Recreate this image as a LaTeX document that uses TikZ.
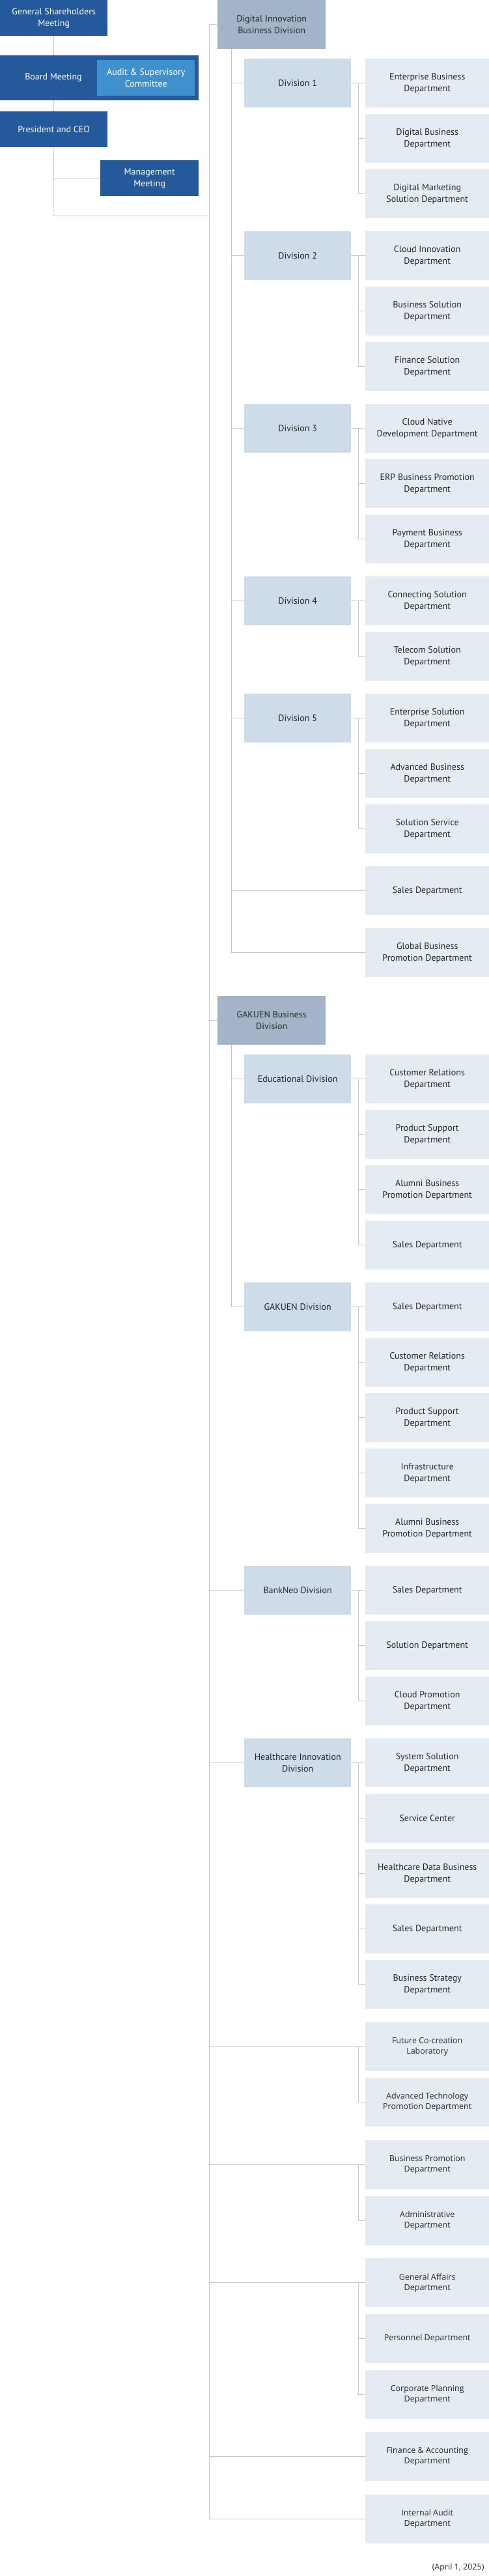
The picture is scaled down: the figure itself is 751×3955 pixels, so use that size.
\documentclass[tikz,border=0pt]{standalone}
\usepackage{fontspec}
\setmainfont{PT Sans}
\newfontfamily\lowfont{Open Sans}
\definecolor{dkblue}{HTML}{245A9B}
\definecolor{audit}{HTML}{4190CE}
\definecolor{grpc}{HTML}{A3B4C8}
\definecolor{divc}{HTML}{CEDBE9}
\definecolor{depc}{HTML}{E5EBF3}
\definecolor{linec}{HTML}{C8C8C8}
\tikzset{
  boxbase/.style={anchor=north west, inner sep=0pt, align=center, font=\fontsize{14}{18}\selectfont},
  topbox/.style={boxbase, fill=dkblue, text=white, minimum height=55pt},
  grpbox/.style={boxbase, fill=grpc, text=black!85, minimum width=166pt, minimum height=75pt},
  divbox/.style={boxbase, fill=divc, text=black!85, minimum width=164pt, minimum height=75pt},
  depbox/.style={boxbase, fill=depc, text=black!85, minimum width=190pt, minimum height=75pt},
  lowbox/.style={depbox, font=\lowfont\fontsize{12.5}{16}\selectfont},
  conn/.style={draw=linec, line width=0.8pt},
}
\newcommand{\dep}[3]{\node[depbox] (#1) at (561,#2) {#3};}
\newcommand{\ldep}[3]{\node[lowbox] (#1) at (561,#2) {#3};}
\newcommand{\dv}[3]{\node[divbox] (#1) at (375,#2) {#3};}
\begin{document}
\begin{tikzpicture}[x=1pt,y=-1pt]
\path[fill=white] (0,0) rectangle (751,3955);
\useasboundingbox (0,0) rectangle (751,3955);
% top management
\node[topbox, minimum width=165pt] (gsm) at (0,0) {General Shareholders\\Meeting};
\node[boxbase, fill=dkblue, minimum width=305pt, minimum height=69pt] (board) at (0,85) {};
\node[text=white, font=\fontsize{14}{18}\selectfont] (boardlbl) at (82,119.5) {Board Meeting};
\node[topbox, fill=audit, minimum width=150pt] (aud) at (149,92) {Audit \& Supervisory\\Committee};
\node[topbox, minimum width=165pt] (pres) at (0,171) {President and CEO};
\node[topbox, minimum width=151pt] (mgmt) at (154,246) {Management\\Meeting};
\coordinate (pb) at (82,331);
\draw[conn] (gsm.south) -- (gsm.south |- board.north);
\draw[conn] (gsm.south |- board.south) -- (pres.north);
\draw[conn] (pres.south) -- (pb);
\draw[conn] (mgmt.west -| pb) -- (mgmt.west);
% trunk
\node[grpbox] (di) at (334,0) {Digital Innovation\\Business Division};
\coordinate (t0) at (321,37.5);
\coordinate (pbt) at (321,331);
\draw[conn] (pb) -- (pbt);
\draw[conn] (di.west) -- (t0);
% DI group
\coordinate (s1) at (355,75);
\dv{d1}{90}{Division 1}
\dep{e11}{90}{Enterprise Business\\Department}
\dep{e12}{175}{Digital Business\\Department}
\dep{e13}{260}{Digital Marketing\\Solution Department}
\dv{d2}{355}{Division 2}
\dep{e21}{355}{Cloud Innovation\\Department}
\dep{e22}{440}{Business Solution\\Department}
\dep{e23}{525}{Finance Solution\\Department}
\dv{d3}{620}{Division 3}
\dep{e31}{620}{Cloud Native\\Development Department}
\dep{e32}{705}{ERP Business Promotion\\Department}
\dep{e33}{790}{Payment Business\\Department}
\dv{d4}{885}{Division 4}
\dep{e41}{885}{Connecting Solution\\Department}
\dep{e42}{970}{Telecom Solution\\Department}
\dv{d5}{1065}{Division 5}
\dep{e51}{1065}{Enterprise Solution\\Department}
\dep{e52}{1150}{Advanced Business\\Department}
\dep{e53}{1235}{Solution Service\\Department}
\dep{disales}{1330}{Sales Department}
\dep{diglobal}{1425}{Global Business\\Promotion Department}
\draw[conn] (s1) |- (diglobal.west);
\draw[conn] (disales.west -| s1) -- (disales.west);
\foreach \d in {d1,d2,d3,d4,d5} \draw[conn] (\d.west -| s1) -- (\d.west);
\foreach \d/\a/\b in {d1/e11/e13,d2/e21/e23,d3/e31/e33,d4/e41/e42,d5/e51/e53} {
  \draw[conn] (\d.east) -- (\a.west);
  \draw[conn] ([xshift=-11pt]\a.west) |- (\b.west);
}
\foreach \a/\b in {e11/e12,e21/e22,e31/e32,e51/e52} \draw[conn] ([xshift=-11pt]\b.west) -- (\b.west);
% GAKUEN
\node[grpbox] (gk) at (334,1529) {GAKUEN Business\\Division};
\draw[conn] (gk.west) -- (gk.west -| t0);
\coordinate (s2) at (355,1604);
\dv{ed}{1619}{Educational Division}
\dep{f1}{1619}{Customer Relations\\Department}
\dep{f2}{1704}{Product Support\\Department}
\dep{f3}{1789}{Alumni Business\\Promotion Department}
\dep{f4}{1874}{Sales Department}
\dv{gd}{1969}{GAKUEN Division}
\dep{g1}{1969}{Sales Department}
\dep{g2}{2054}{Customer Relations\\Department}
\dep{g3}{2139}{Product Support\\Department}
\dep{g4}{2224}{Infrastructure\\Department}
\dep{g5}{2309}{Alumni Business\\Promotion Department}
\draw[conn] (s2) |- (gd.west);
\draw[conn] (ed.west -| s2) -- (ed.west);
% BankNeo / Healthcare
\dv{bn}{2404}{BankNeo Division}
\dep{b1}{2404}{Sales Department}
\dep{b2}{2489}{Solution Department}
\dep{b3}{2574}{Cloud Promotion\\Department}
\dv{hc}{2669}{Healthcare Innovation\\Division}
\dep{h1}{2669}{System Solution\\Department}
\dep{h2}{2754}{Service Center}
\dep{h3}{2839}{Healthcare Data Business\\Department}
\dep{h4}{2924}{Sales Department}
\dep{h5}{3009}{Business Strategy\\Department}
\draw[conn] (bn.west -| t0) -- (bn.west);
\draw[conn] (hc.west -| t0) -- (hc.west);
\foreach \d/\a/\b in {ed/f1/f4,gd/g1/g5,bn/b1/b3,hc/h1/h5} {
  \draw[conn] (\d.east) -- (\a.west);
  \draw[conn] ([xshift=-11pt]\a.west) |- (\b.west);
}
\foreach \b in {f2,f3,g2,g3,g4,b2,h2,h3,h4} \draw[conn] ([xshift=-11pt]\b.west) -- (\b.west);
% corporate
\ldep{k1}{3105}{Future Co-creation\\Laboratory}
\ldep{k2}{3190}{Advanced Technology\\Promotion Department}
\ldep{m1}{3286}{Business Promotion\\Department}
\ldep{m2}{3372}{Administrative\\Department}
\ldep{n1}{3467}{General Affairs\\Department}
\ldep{n2}{3553}{Personnel Department}
\ldep{n3}{3639}{Corporate Planning\\Department}
\ldep{fa}{3734}{Finance \& Accounting\\Department}
\ldep{ia}{3830}{Internal Audit\\Department}
\foreach \a/\b in {k1/k2,m1/m2,n1/n3} {
  \draw[conn] (\a.west -| t0) -- (\a.west);
  \draw[conn] ([xshift=-11pt]\a.west) |- (\b.west);
}
\draw[conn] ([xshift=-11pt]n2.west) -- (n2.west);
\draw[conn] (fa.west -| t0) -- (fa.west);
\draw[conn] (t0) |- (ia.west);
\node[anchor=east, font=\lowfont\fontsize{12.5}{15}\selectfont, text=black!85] (date) at (747,3942) {(April 1, 2025)};
\end{tikzpicture}
\end{document}
